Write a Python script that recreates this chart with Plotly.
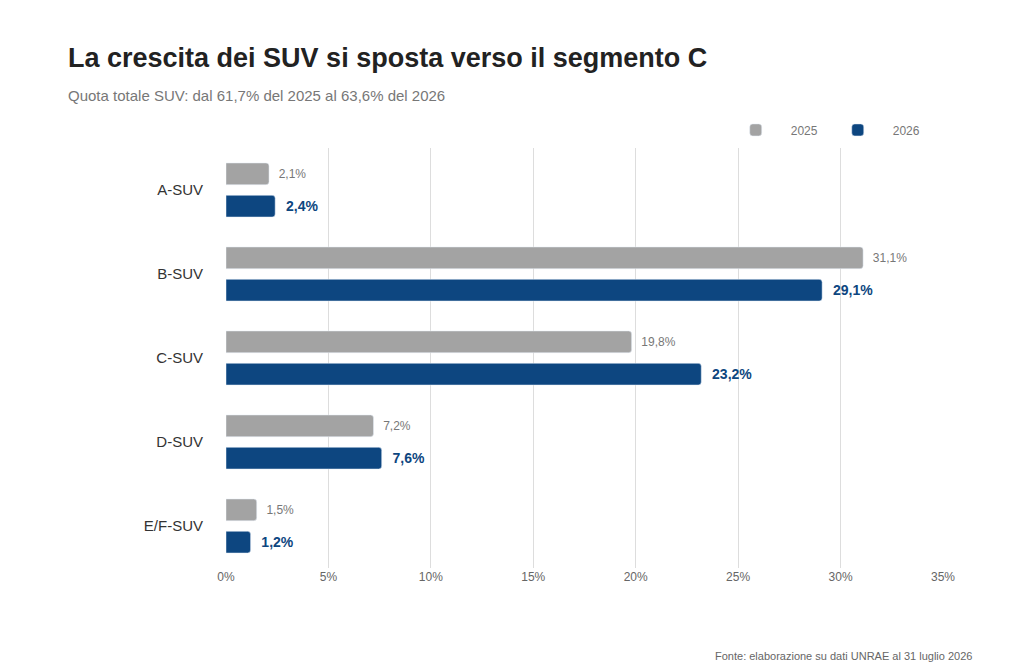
import plotly.graph_objects as go

segmenti = ['A-SUV', 'B-SUV', 'C-SUV', 'D-SUV', 'E/F-SUV']
quota_2025 = [2.1, 31.1, 19.8, 7.2, 1.5]
quota_2026 = [2.4, 29.1, 23.2, 7.6, 1.2]

grigio = '#a3a3a3'
blu = '#0d4680'

def fmt(v):
    return f'{v:.1f}%'.replace('.', ',')

fig = go.Figure()
fig.add_trace(go.Bar(
    y=segmenti, x=quota_2025, name='2025', orientation='h',
    marker=dict(color=grigio, cornerradius=3),
    text=['  ' + fmt(v) for v in quota_2025], textposition='outside',
    textfont=dict(color='#777777', size=12), cliponaxis=False,
    hoverinfo='skip'
))
fig.add_trace(go.Bar(
    y=segmenti, x=quota_2026, name='2026', orientation='h',
    marker=dict(color=blu, cornerradius=3),
    text=['  <b>' + fmt(v) + '</b>' for v in quota_2026], textposition='outside',
    textfont=dict(color=blu, size=14), cliponaxis=False,
    hoverinfo='skip'
))

fig.update_layout(
    width=1024, height=672,
    paper_bgcolor='white', plot_bgcolor='white',
    font=dict(family='Liberation Sans, Arial, sans-serif', color='#333333'),
    margin=dict(l=218, r=89, t=140, b=112, autoexpand=False),
    barmode='group', bargap=0.23, bargroupgap=0.33,
    showlegend=True,
    legend=dict(orientation='h', x=0.69, y=1.043, xanchor='left', yanchor='middle',
                font=dict(size=12, color='#777777'), itemwidth=60,
                traceorder='normal'),
    xaxis=dict(range=[0, 35], dtick=5, ticksuffix='%', showgrid=True,
               gridcolor='#dddddd', gridwidth=1, zeroline=False,
               tickfont=dict(size=12, color='#666666'), fixedrange=True),
    yaxis=dict(autorange='reversed', showgrid=False, ticks='', ticklabelstandoff=22,
               tickfont=dict(size=15, color='#333333')),
    annotations=[
        dict(text='<b>La crescita dei SUV si sposta verso il segmento C</b>',
             xref='paper', yref='paper', x=-0.223, y=1.214, xanchor='left',
             yanchor='middle', showarrow=False,
             font=dict(size=27, color='#222222')),
        dict(text='Quota totale SUV: dal 61,7% del 2025 al 63,6% del 2026',
             xref='paper', yref='paper', x=-0.223, y=1.126, xanchor='left',
             yanchor='middle', showarrow=False,
             font=dict(size=15, color='#777777')),
        dict(text='Fonte: elaborazione su dati UNRAE al 31 luglio 2026',
             xref='paper', yref='paper', x=1.043, y=-0.21, xanchor='right',
             yanchor='middle', showarrow=False,
             font=dict(size=11, color='#666666')),
    ],
)
fig.write_html('out.html')
